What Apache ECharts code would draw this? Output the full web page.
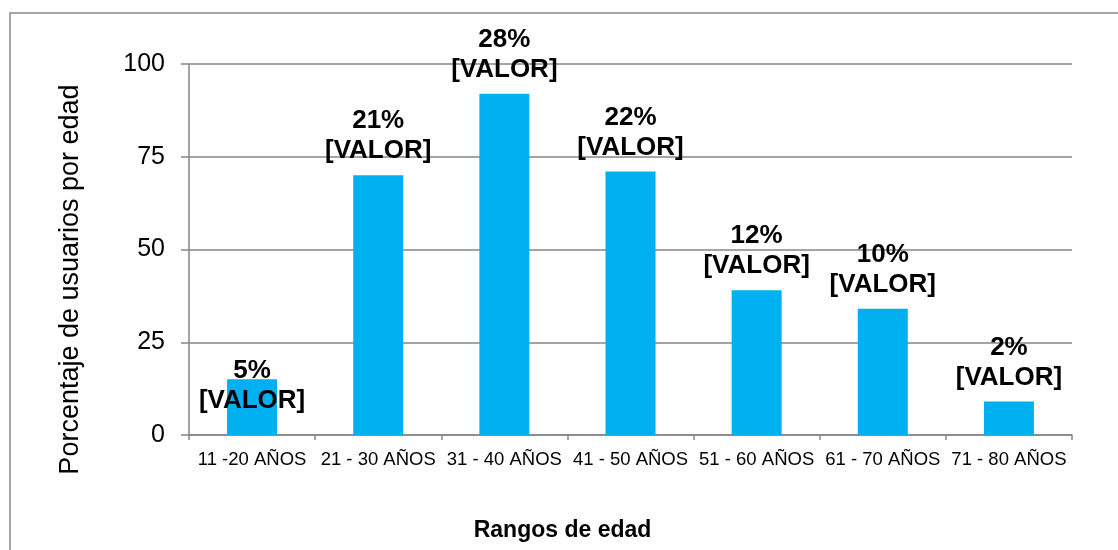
<!DOCTYPE html>
<html><head><meta charset="utf-8">
<script src="https://cdn.jsdelivr.net/npm/echarts@6/dist/echarts.min.js"></script>
<style>html,body{margin:0;padding:0;background:#fff}#c{width:1118px;height:550px}</style>
</head><body><div id="c"></div>
<script>
const categories = ['11 -20 AÑOS','21 - 30 AÑOS','31 - 40 AÑOS','41 - 50 AÑOS','51 - 60 AÑOS','61 - 70 AÑOS','71 - 80 AÑOS'];
const values = [15, 70, 92, 71, 39, 34, 9];
const percentLabels = ['5%','21%','28%','22%','12%','10%','2%'];
const yTicks = [0, 25, 50, 75, 100];

const font = '"Liberation Sans", Arial, sans-serif';
const chart = echarts.init(document.getElementById('c'));
const data = values.map((v, i) => {
  const item = { value: v };
  if (i === 0) item.label = { offset: [0, 45] };
  return item;
});
chart.setOption({
  animation: false,
  textStyle: { fontFamily: font },
  graphic: [{
    type: 'rect', shape: { x: 10, y: 13, width: 1200, height: 600 },
    style: { fill: 'none', stroke: '#8a8a8a', lineWidth: 1.5 }, silent: true
  }],
  grid: { left: 189, right: 46, top: 64, bottom: 115 },
  xAxis: {
    type: 'category', data: categories,
    name: 'Rangos de edad', nameLocation: 'middle', nameGap: 84,
    nameTextStyle: { fontFamily: font, fontSize: 23, fontWeight: 'bold', color: '#000', padding: [0, 136, 0, 0] },
    axisLine: { lineStyle: { color: '#868686', width: 1.5 } },
    axisTick: { show: true, length: 5, alignWithLabel: false, lineStyle: { color: '#868686', width: 1.5 } },
    axisLabel: { fontFamily: font, fontSize: 18.5, color: '#000', margin: 15, interval: 0 }
  },
  yAxis: {
    type: 'value', min: yTicks[0], max: yTicks[yTicks.length - 1], interval: 25,
    name: 'Porcentaje de usuarios por edad', nameLocation: 'middle', nameGap: 105,
    nameTextStyle: { fontFamily: font, fontSize: 27, color: '#000', padding: [0, 60, 0, 0] },
    axisLine: { show: true, lineStyle: { color: '#868686', width: 1.5 } },
    axisTick: { show: true, length: 8, lineStyle: { color: '#868686', width: 1.5 } },
    axisLabel: { fontFamily: font, fontSize: 25, color: '#000', margin: 24 },
    splitLine: { lineStyle: { color: '#868686', width: 1.5 } }
  },
  series: [{
    type: 'bar', data: data, barWidth: 50,
    itemStyle: { color: '#00B0F0' },
    label: {
      show: true, position: 'top', distance: 9,
      fontFamily: font, fontSize: 26, fontWeight: 'bold', color: '#000', lineHeight: 30,
      formatter: p => percentLabels[p.dataIndex] + '\n[VALOR]'
    }
  }]
});
</script></body></html>
